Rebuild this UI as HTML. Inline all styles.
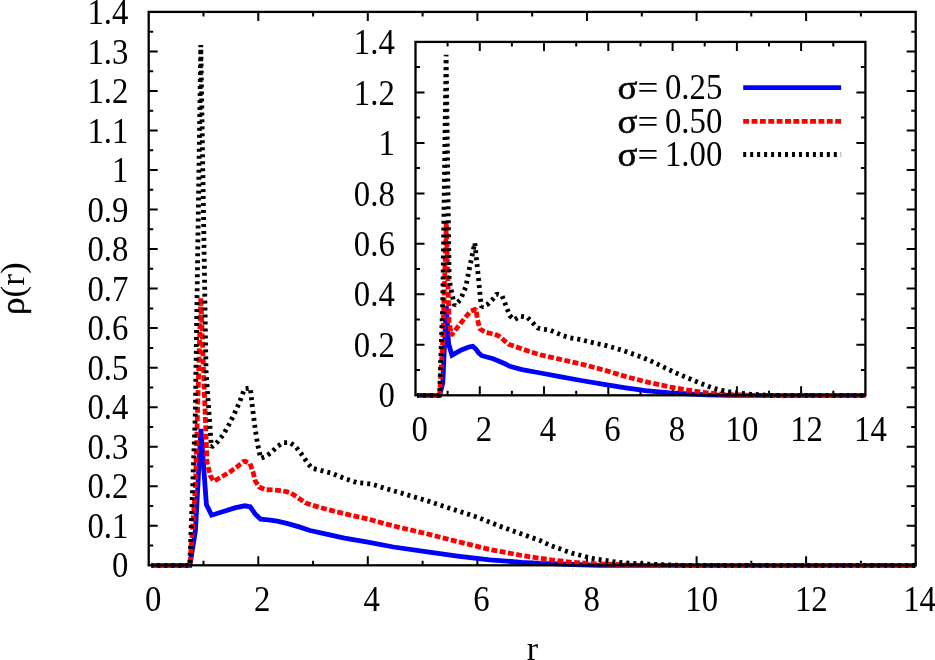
<!DOCTYPE html>
<html>
<head>
<meta charset="utf-8">
<title>rho(r)</title>
<style>
html,body{margin:0;padding:0;background:#fff;}
body{width:935px;height:660px;overflow:hidden;font-family:"Liberation Serif",serif;}
svg{display:block;will-change:transform;}
</style>
</head>
<body>
<svg width="935" height="660" viewBox="0 0 935 660">
<rect width="935" height="660" fill="#fff"/>
<path d="M203.5 565.3v-4.5M203.5 11.9v4.5M258.3 565.3v-9.0M258.3 11.9v9.0M313.1 565.3v-4.5M313.1 11.9v4.5M367.8 565.3v-9.0M367.8 11.9v9.0M422.6 565.3v-4.5M422.6 11.9v4.5M477.4 565.3v-9.0M477.4 11.9v9.0M532.2 565.3v-4.5M532.2 11.9v4.5M587.0 565.3v-9.0M587.0 11.9v9.0M641.8 565.3v-4.5M641.8 11.9v4.5M696.6 565.3v-9.0M696.6 11.9v9.0M751.3 565.3v-4.5M751.3 11.9v4.5M806.1 565.3v-9.0M806.1 11.9v9.0M860.9 565.3v-4.5M860.9 11.9v4.5M148.7 545.5h4.5M915.7 545.5h-4.5M148.7 525.8h9.0M915.7 525.8h-9.0M148.7 506.0h4.5M915.7 506.0h-4.5M148.7 486.2h9.0M915.7 486.2h-9.0M148.7 466.5h4.5M915.7 466.5h-4.5M148.7 446.7h9.0M915.7 446.7h-9.0M148.7 426.9h4.5M915.7 426.9h-4.5M148.7 407.2h9.0M915.7 407.2h-9.0M148.7 387.4h4.5M915.7 387.4h-4.5M148.7 367.7h9.0M915.7 367.7h-9.0M148.7 347.9h4.5M915.7 347.9h-4.5M148.7 328.1h9.0M915.7 328.1h-9.0M148.7 308.4h4.5M915.7 308.4h-4.5M148.7 288.6h9.0M915.7 288.6h-9.0M148.7 268.8h4.5M915.7 268.8h-4.5M148.7 249.1h9.0M915.7 249.1h-9.0M148.7 229.3h4.5M915.7 229.3h-4.5M148.7 209.5h9.0M915.7 209.5h-9.0M148.7 189.8h4.5M915.7 189.8h-4.5M148.7 170.0h9.0M915.7 170.0h-9.0M148.7 150.2h4.5M915.7 150.2h-4.5M148.7 130.5h9.0M915.7 130.5h-9.0M148.7 110.7h4.5M915.7 110.7h-4.5M148.7 91.0h9.0M915.7 91.0h-9.0M148.7 71.2h4.5M915.7 71.2h-4.5M148.7 51.4h9.0M915.7 51.4h-9.0M148.7 31.7h4.5M915.7 31.7h-4.5" fill="none" stroke="#000" stroke-width="2.0"/>
<path d="M151.4 565.3 189.9 565.3 195.5 530.0 200.9 429.0 206.4 504.6 211.6 515.2 224.2 511.3 234.8 507.9 244.7 505.8 250.2 506.8 255.3 514.2 260.6 519.1 268.2 519.9 277.3 521.2 287.9 523.6 299.1 526.9 310.0 530.5 326.4 534.2 344.5 538.2 367.8 542.2 393.5 547.0 425.6 551.7 457.6 556.1 489.7 559.8 521.8 562.4 540.0 563.4 551.4 563.7 572.8 564.5 600.0 565.3 915.7 565.3" fill="none" stroke="#0000ff" stroke-width="4.8" stroke-linejoin="miter" stroke-miterlimit="10"/>
<path d="M151.4 565.3 189.9 565.3 195.3 489.0 200.8 297.9 207.0 462.0 210.2 475.5 213.6 481.2 221.2 477.1 228.8 472.6 236.4 467.3 244.2 461.0 250.0 463.5 253.0 471.8 255.3 480.9 259.1 487.0 265.2 489.7 274.2 490.0 282.6 490.8 290.5 492.8 297.3 497.3 306.4 503.3 319.1 507.3 335.5 511.5 351.8 515.5 368.2 519.1 384.5 523.6 399.1 527.3 425.6 533.5 457.6 541.6 489.7 549.5 521.8 555.5 540.0 558.3 551.4 559.8 572.8 562.4 594.2 563.7 615.6 564.5 640.0 565.3 915.7 565.3" fill="none" stroke="#ff0000" stroke-width="4.8" stroke-linejoin="bevel" stroke-miterlimit="10" stroke-dasharray="5.9 2.46" stroke-dashoffset="0.99"/>
<path d="M151.4 565.3 189.8 565.3 195.3 414.0 200.8 45.0 206.0 370.0 211.4 447.3 217.9 441.5 223.4 434.5 228.8 424.8 234.3 414.0 239.8 401.5 244.6 388.7 250.3 388.0 252.7 409.4 255.3 429.8 257.6 443.9 260.6 458.3 265.9 456.4 272.0 451.8 277.3 446.5 283.0 442.7 290.2 442.7 295.5 446.4 301.8 454.5 307.3 462.7 311.8 468.2 319.1 470.0 331.8 473.3 344.5 478.5 357.3 482.7 371.8 484.0 384.5 488.2 399.1 492.4 425.6 500.3 447.0 507.4 476.9 517.0 498.3 525.6 521.8 534.1 540.0 540.5 551.4 545.9 572.8 553.4 594.2 558.8 615.6 562.0 637.0 563.7 658.3 564.5 680.0 565.3 915.7 565.3" fill="none" stroke="#000" stroke-width="4.8" stroke-linejoin="bevel" stroke-miterlimit="10" stroke-dasharray="3 3.97" stroke-dashoffset="1.01"/>
<rect x="148.7" y="11.9" width="767.0" height="553.4" fill="none" stroke="#000" stroke-width="2.3"/>
<path d="M447.6 395.3v-4.5M447.6 41.9v4.5M479.8 395.3v-9.0M479.8 41.9v9.0M511.9 395.3v-4.5M511.9 41.9v4.5M544.0 395.3v-9.0M544.0 41.9v9.0M576.2 395.3v-4.5M576.2 41.9v4.5M608.3 395.3v-9.0M608.3 41.9v9.0M640.5 395.3v-4.5M640.5 41.9v4.5M672.6 395.3v-9.0M672.6 41.9v9.0M704.7 395.3v-4.5M704.7 41.9v4.5M736.9 395.3v-9.0M736.9 41.9v9.0M769.0 395.3v-4.5M769.0 41.9v4.5M801.1 395.3v-9.0M801.1 41.9v9.0M833.3 395.3v-4.5M833.3 41.9v4.5M415.5 370.1h4.5M865.4 370.1h-4.5M415.5 344.8h9.0M865.4 344.8h-9.0M415.5 319.6h4.5M865.4 319.6h-4.5M415.5 294.3h9.0M865.4 294.3h-9.0M415.5 269.1h4.5M865.4 269.1h-4.5M415.5 243.8h9.0M865.4 243.8h-9.0M415.5 218.6h4.5M865.4 218.6h-4.5M415.5 193.4h9.0M865.4 193.4h-9.0M415.5 168.1h4.5M865.4 168.1h-4.5M415.5 142.9h9.0M865.4 142.9h-9.0M415.5 117.6h4.5M865.4 117.6h-4.5M415.5 92.4h9.0M865.4 92.4h-9.0M415.5 67.1h4.5M865.4 67.1h-4.5" fill="none" stroke="#000" stroke-width="2.0"/>
<path d="M417.1 395.3 439.6 395.3 442.8 383.0 446.3 305.8 448.6 344.0 452.0 355.2 461.4 349.9 468.9 347.0 472.7 346.3 475.5 348.6 478.8 353.0 481.8 355.7 493.2 358.8 505.0 363.8 510.5 366.6 522.0 369.6 540.6 373.0 559.8 376.7 581.2 380.5 602.6 384.2 624.0 387.6 645.4 390.6 670.0 392.9 683.5 393.6 707.0 394.8 730.0 395.3 865.4 395.3" fill="none" stroke="#0000ff" stroke-width="4.8" stroke-linejoin="miter" stroke-miterlimit="10"/>
<path d="M417.1 395.3 439.6 395.3 442.8 340.0 446.3 222.6 449.0 320.0 451.3 335.5 460.0 324.0 470.5 311.3 476.0 309.0 477.5 320.0 480.0 329.0 485.6 332.3 494.7 334.2 500.0 336.7 508.5 344.2 523.5 349.5 540.6 354.9 564.1 360.2 585.5 365.1 606.9 370.9 628.3 377.3 649.7 382.7 670.0 387.0 683.5 389.4 707.0 392.9 730.6 394.6 750.0 395.3 865.4 395.3" fill="none" stroke="#ff0000" stroke-width="4.8" stroke-linejoin="bevel" stroke-miterlimit="10" stroke-dasharray="5.9 2.46" stroke-dashoffset="2.84"/>
<path d="M417.1 395.3 439.6 395.3 442.8 300.0 446.1 54.7 449.2 280.0 454.4 305.6 460.5 299.7 465.8 286.8 469.8 266.4 474.8 243.0 476.4 258.5 478.6 279.2 480.5 299.7 481.7 307.2 487.7 304.2 492.3 299.7 496.8 294.0 502.1 295.7 504.8 302.7 507.4 309.5 509.7 315.6 514.2 319.8 520.3 316.2 527.1 317.1 532.5 322.5 537.5 328.0 543.3 329.3 550.0 330.1 556.7 333.0 563.3 335.8 570.0 337.8 576.7 338.8 583.3 340.3 590.0 342.0 596.7 343.6 603.3 344.8 610.0 346.6 623.5 350.7 636.2 355.2 648.9 360.1 661.6 366.2 674.4 372.3 687.1 377.7 699.8 383.0 712.5 388.0 725.3 391.1 737.2 393.1 750.0 394.2 770.0 395.3 865.4 395.3" fill="none" stroke="#000" stroke-width="4.8" stroke-linejoin="bevel" stroke-miterlimit="10" stroke-dasharray="3 3.97" stroke-dashoffset="0.96"/>
<rect x="415.5" y="41.9" width="449.9" height="353.4" fill="none" stroke="#000" stroke-width="2.3"/>
<path d="M743.2 87.6H841.1" stroke="#0000ff" stroke-width="4.8"/>
<path d="M743.2 121.3H841.1" stroke="#ff0000" stroke-width="4.8" stroke-dasharray="5.9 2.46"/>
<path d="M743.2 154.5H841.1" stroke="#000" stroke-width="4.8" stroke-dasharray="3 3.97"/>
<g font-family="'Liberation Serif', serif" font-size="34.0" fill="#000">
<text transform="translate(128.4 577.4) scale(0.965 1.03)" text-anchor="end">0</text>
<text transform="translate(128.4 537.9) scale(0.965 1.03)" text-anchor="end">0.1</text>
<text transform="translate(128.4 498.3) scale(0.965 1.03)" text-anchor="end">0.2</text>
<text transform="translate(128.4 458.8) scale(0.965 1.03)" text-anchor="end">0.3</text>
<text transform="translate(128.4 419.3) scale(0.965 1.03)" text-anchor="end">0.4</text>
<text transform="translate(128.4 379.8) scale(0.965 1.03)" text-anchor="end">0.5</text>
<text transform="translate(128.4 340.2) scale(0.965 1.03)" text-anchor="end">0.6</text>
<text transform="translate(128.4 300.7) scale(0.965 1.03)" text-anchor="end">0.7</text>
<text transform="translate(128.4 261.2) scale(0.965 1.03)" text-anchor="end">0.8</text>
<text transform="translate(128.4 221.6) scale(0.965 1.03)" text-anchor="end">0.9</text>
<text transform="translate(128.4 182.1) scale(0.965 1.03)" text-anchor="end">1</text>
<text transform="translate(128.4 142.6) scale(0.965 1.03)" text-anchor="end">1.1</text>
<text transform="translate(128.4 103.1) scale(0.965 1.03)" text-anchor="end">1.2</text>
<text transform="translate(128.4 63.5) scale(0.965 1.03)" text-anchor="end">1.3</text>
<text transform="translate(128.4 24.0) scale(0.965 1.03)" text-anchor="end">1.4</text>
<text transform="translate(153.2 611.0) scale(0.965 1.03)" text-anchor="middle">0</text>
<text transform="translate(262.2 611.0) scale(0.965 1.03)" text-anchor="middle">2</text>
<text transform="translate(371.6 611.0) scale(0.965 1.03)" text-anchor="middle">4</text>
<text transform="translate(481.4 611.0) scale(0.965 1.03)" text-anchor="middle">6</text>
<text transform="translate(591.8 611.0) scale(0.965 1.03)" text-anchor="middle">8</text>
<text transform="translate(701.7 611.0) scale(0.965 1.03)" text-anchor="middle">10</text>
<text transform="translate(811.3 611.0) scale(0.965 1.03)" text-anchor="middle">12</text>
<text transform="translate(919.6 611.0) scale(0.965 1.03)" text-anchor="middle">14</text>
<text transform="translate(394.8 407.4) scale(0.965 1.03)" text-anchor="end">0</text>
<text transform="translate(394.8 356.9) scale(0.965 1.03)" text-anchor="end">0.2</text>
<text transform="translate(394.8 306.4) scale(0.965 1.03)" text-anchor="end">0.4</text>
<text transform="translate(394.8 255.9) scale(0.965 1.03)" text-anchor="end">0.6</text>
<text transform="translate(394.8 205.5) scale(0.965 1.03)" text-anchor="end">0.8</text>
<text transform="translate(394.8 155.0) scale(0.965 1.03)" text-anchor="end">1</text>
<text transform="translate(394.8 104.5) scale(0.965 1.03)" text-anchor="end">1.2</text>
<text transform="translate(394.8 54.0) scale(0.965 1.03)" text-anchor="end">1.4</text>
<text transform="translate(419.8 440.7) scale(0.965 1.03)" text-anchor="middle">0</text>
<text transform="translate(483.9 440.7) scale(0.965 1.03)" text-anchor="middle">2</text>
<text transform="translate(548.0 440.7) scale(0.965 1.03)" text-anchor="middle">4</text>
<text transform="translate(612.5 440.7) scale(0.965 1.03)" text-anchor="middle">6</text>
<text transform="translate(677.0 440.7) scale(0.965 1.03)" text-anchor="middle">8</text>
<text transform="translate(742.0 440.7) scale(0.965 1.03)" text-anchor="middle">10</text>
<text transform="translate(806.6 440.7) scale(0.965 1.03)" text-anchor="middle">12</text>
<text transform="translate(870.4 440.7) scale(0.965 1.03)" text-anchor="middle">14</text>
<text transform="translate(722.3 99.4) scale(0.965 1.03)" text-anchor="end">0.25</text>
<text transform="translate(617.6 99.4) scale(1.09 1)"><tspan stroke="#000" stroke-width="0.5">σ</tspan>=</text>
<text transform="translate(722.3 132.9) scale(0.965 1.03)" text-anchor="end">0.50</text>
<text transform="translate(617.6 132.9) scale(1.09 1)"><tspan stroke="#000" stroke-width="0.5">σ</tspan>=</text>
<text transform="translate(722.3 166.3) scale(0.965 1.03)" text-anchor="end">1.00</text>
<text transform="translate(617.6 166.3) scale(1.09 1)"><tspan stroke="#000" stroke-width="0.5">σ</tspan>=</text>
<text transform="translate(532.4 659.5) scale(1 1)" text-anchor="middle">r</text>
<text transform="translate(23.6 288.7) rotate(-90) scale(1.035 1.02)" text-anchor="middle"><tspan stroke="#000" stroke-width="0.4">ρ</tspan>(r)</text>
</g>
</svg>
</body>
</html>
